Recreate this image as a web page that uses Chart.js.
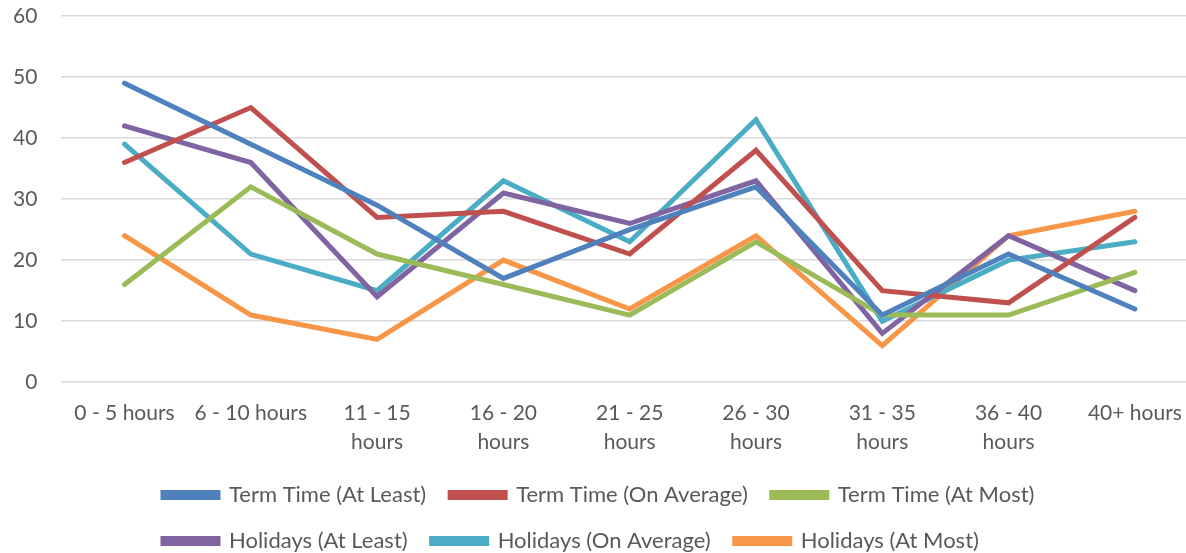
<!DOCTYPE html>
<html>
<head>
<meta charset="utf-8">
<script src="https://cdn.jsdelivr.net/npm/chart.js@4/dist/chart.umd.min.js"></script>
<style>
  html, body { margin: 0; padding: 0; background: #fff; overflow: hidden; }
  #wrap { width: 1200px; height: 553px; }
</style>
</head>
<body>
<div id="wrap"><canvas id="hoursChart"></canvas></div>
<script>
const categories = [
    '0 - 5 hours', '6 - 10 hours', ['11 - 15', 'hours'], ['16 - 20', 'hours'],
    ['21 - 25', 'hours'], ['26 - 30', 'hours'], ['31 - 35', 'hours'], ['36 - 40', 'hours'], '40+ hours'
];
const termAtLeast = [49, 39, 29, 17, 25, 32, 11, 21, 12];
const termOnAverage = [36, 45, 27, 28, 21, 38, 15, 13, 27];
const termAtMost = [16, 32, 21, 16, 11, 23, 11, 11, 18];
const holAtLeast = [42, 36, 14, 31, 26, 33, 8, 24, 15];
const holOnAverage = [39, 21, 15, 33, 23, 43, 10, 20, 23];
const holAtMost = [24, 11, 7, 20, 12, 24, 6, 24, 28];
const yTicks = [0, 10, 20, 30, 40, 50, 60];

const fontFamily = 'Lato, "Open Sans", sans-serif';
const textColor = '#595959';

function series(label, data, color) {
    return {
        label: label,
        data: data,
        borderColor: color,
        backgroundColor: color,
        borderWidth: 5,
        borderCapStyle: 'round',
        pointRadius: 0,
        pointHoverRadius: 0,
        tension: 0,
        fill: false
    };
}

// legend laid out as three columns per row, like the original
const legendColumns = {
    id: 'legendColumns',
    afterLayout(chart) {
        const lg = chart.legend;
        const w = 940;
        lg.maxWidth = w;
        lg.fit();
        lg.left = 139;
        lg.right = 139 + w;
        lg.width = w;
    }
};

const ctx = document.getElementById('hoursChart').getContext('2d');
const hoursChart = new Chart(ctx, {
    type: 'line',
    data: {
        labels: categories,
        datasets: [
            series('Term Time (At Least)', termAtLeast, '#4F81BD'),
            series('Term Time (On Average)', termOnAverage, '#C0504D'),
            series('Term Time (At Most)', termAtMost, '#9BBB59'),
            series('Holidays (At Least)', holAtLeast, '#8064A2'),
            series('Holidays (On Average)', holOnAverage, '#4BACC6'),
            series('Holidays (At Most)', holAtMost, '#F79646')
        ]
    },
    plugins: [legendColumns],
    options: {
        responsive: true,
        maintainAspectRatio: false,
        animation: false,
        layout: {
            padding: { top: 0, left: -11, right: 2, bottom: -9 }
        },
        scales: {
            x: {
                offset: true,
                grid: { display: false },
                border: { display: false },
                afterFit: function (axis) { axis.height -= 5; },
                ticks: {
                    color: textColor,
                    font: { family: fontFamily, size: 21, lineHeight: 1.4 },
                    padding: 8,
                    maxRotation: 0,
                    autoSkip: false
                }
            },
            y: {
                min: 0,
                max: 60,
                afterBuildTicks: function (axis) {
                    axis.ticks = yTicks.map(function (v) { return { value: v }; });
                },
                afterFit: function (axis) { axis.paddingTop = 16; },
                grid: { color: '#d9d9d9', lineWidth: 1.5, drawTicks: false },
                border: { display: false },
                ticks: {
                    color: textColor,
                    font: { family: fontFamily, size: 21 },
                    padding: 24
                }
            }
        },
        plugins: {
            legend: {
                position: 'bottom',
                align: 'start',
                labels: {
                    color: textColor,
                    font: { family: fontFamily, size: 22 },
                    boxWidth: 55,
                    boxHeight: 5,
                    padding: 24
                }
            },
            tooltip: { enabled: false }
        }
    }
});
</script>
</body>
</html>
